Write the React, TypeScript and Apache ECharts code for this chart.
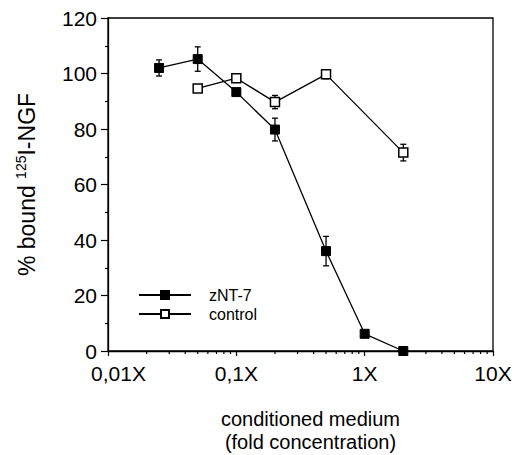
import React, { useEffect, useRef } from "react";
import * as echarts from "echarts";

const concZNT7 = [0.025, 0.05, 0.1, 0.2, 0.5, 1, 2];
const boundZNT7 = [102, 105.2, 93.3, 79.8, 36, 6.2, 0];
const errZNT7 = [2.9, 4.4, 0, 4.1, 5.3, 0, 0];

const concControl = [0.05, 0.1, 0.2, 0.5, 2];
const boundControl = [94.6, 98.3, 89.7, 99.7, 71.5];
const errControl = [0, 0, 2.4, 1.6, 3];

const xTickLabels = ["0,01X", "0,1X", "1X", "10X"];
const xMinorTicks = [
  0.02, 0.03, 0.04, 0.05, 0.06, 0.07, 0.08, 0.09,
  0.2, 0.3, 0.4, 0.5, 0.6, 0.7, 0.8, 0.9,
  2, 3, 4, 5, 6, 7, 8, 9,
];

const FONT = "'Liberation Sans', Arial, Helvetica, sans-serif";

export default function App() {
  const ref = useRef<HTMLDivElement>(null);
  useEffect(() => {
    if (!ref.current) return;
    const chart = echarts.init(ref.current, null, { renderer: "svg" });

    const errData: number[][] = [];
    concZNT7.forEach((x, i) => {
      if (errZNT7[i] > 0) errData.push([x, boundZNT7[i] - errZNT7[i], boundZNT7[i] + errZNT7[i]]);
    });
    concControl.forEach((x, i) => {
      if (errControl[i] > 0) errData.push([x, boundControl[i] - errControl[i], boundControl[i] + errControl[i]]);
    });

    chart.setOption({
      animation: false,
      backgroundColor: "#fff",
      textStyle: { fontFamily: FONT, color: "#000" },
      grid: {
        left: 108,
        right: 22,
        top: 18,
        bottom: 104,
        containLabel: false,
        outerBoundsMode: "none",
        show: true,
        borderColor: "#000",
        borderWidth: 1.3,
      },
      legend: {
        data: ["zNT-7", "control"],
        orient: "vertical",
        left: 133,
        top: 282,
        itemWidth: 52,
        itemHeight: 10,
        itemGap: 3,
        textStyle: { fontSize: 16, color: "#000", fontFamily: FONT, padding: [0, 0, 0, 13] },
      },
      xAxis: {
        type: "log",
        logBase: 10,
        min: 0.01,
        max: 10,
        name: "conditioned medium\n(fold concentration)",
        nameLocation: "middle",
        nameGap: 57,
        nameTextStyle: { fontSize: 20, lineHeight: 22.5, color: "#000", fontFamily: FONT, padding: [0, 0, 0, 20] },
        axisLine: { lineStyle: { color: "#000", width: 1.3 } },
        axisTick: { show: true, length: 5, lineStyle: { color: "#000", width: 1.2 } },
        splitLine: { show: false },
        axisLabel: {
          fontSize: 21,
          color: "#000",
          fontFamily: FONT,
          margin: 12,
          formatter: (v: number) => {
            const idx = Math.round(Math.log10(v)) + 2;
            const t = xTickLabels[idx] ?? "";
            return idx === 0 ? "{first|" + t + "}" : t;
          },
          rich: {
            first: { fontSize: 21, color: "#000", fontFamily: FONT, padding: [0, 0, 0, 21] },
          },
        },
      },
      yAxis: {
        type: "value",
        min: 0,
        max: 120,
        interval: 20,
        name: "{a|% bound }{s|125}{a|I-NGF}",
        nameLocation: "middle",
        nameRotate: 90,
        nameGap: 70,
        nameTextStyle: {
          rich: {
            a: { fontSize: 23, color: "#000", fontFamily: FONT, lineHeight: 24, verticalAlign: "bottom" },
            s: { fontSize: 14, color: "#000", fontFamily: FONT, lineHeight: 24, verticalAlign: "top" },
          },
        },
        axisLine: { show: true, lineStyle: { color: "#000", width: 1.3 } },
        axisTick: { show: true, length: 7, lineStyle: { color: "#000", width: 1.2 } },
        minorTick: { show: true, splitNumber: 2, length: 3, lineStyle: { color: "#000", width: 1.2 } },
        splitLine: { show: false },
        axisLabel: { fontSize: 21, color: "#000", fontFamily: FONT, margin: 11 },
      },
      series: [
        {
          type: "custom",
          name: "minorTicks",
          clip: false,
          silent: true,
          data: xMinorTicks.map((v) => [v, 0]),
          encode: { x: 0, y: 1 },
          renderItem: (params: any, api: any) => {
            const p = api.coord([api.value(0), 0]);
            return {
              type: "line",
              shape: { x1: p[0], y1: p[1], x2: p[0], y2: p[1] + 3 },
              style: { stroke: "#000", lineWidth: 1.2 },
            };
          },
          z: 1,
        },
        {
          type: "custom",
          name: "errors",
          clip: false,
          silent: true,
          data: errData,
          encode: { x: 0, y: [1, 2] },
          renderItem: (params: any, api: any) => {
            const lo = api.coord([api.value(0), api.value(1)]);
            const hi = api.coord([api.value(0), api.value(2)]);
            const w = 3;
            const st = { stroke: "#000", lineWidth: 1.3 };
            return {
              type: "group",
              children: [
                { type: "line", shape: { x1: lo[0], y1: lo[1], x2: hi[0], y2: hi[1] }, style: st },
                { type: "line", shape: { x1: lo[0] - w, y1: lo[1], x2: lo[0] + w, y2: lo[1] }, style: st },
                { type: "line", shape: { x1: hi[0] - w, y1: hi[1], x2: hi[0] + w, y2: hi[1] }, style: st },
              ],
            };
          },
          z: 1,
        },
        {
          type: "line",
          name: "control",
          data: concControl.map((x, i) => [x, boundControl[i]]),
          symbol: "rect",
          symbolSize: 9,
          lineStyle: { color: "#000", width: 1.3 },
          itemStyle: { color: "#fff", borderColor: "#000", borderWidth: 1.5 },
          z: 3,
        },
        {
          type: "line",
          name: "zNT-7",
          data: concZNT7.map((x, i) => [x, boundZNT7[i]]),
          symbol: "rect",
          symbolSize: 9,
          lineStyle: { color: "#000", width: 1.3 },
          itemStyle: { color: "#000", borderColor: "#000", borderWidth: 1 },
          z: 4,
        },
      ],
    });
    return () => chart.dispose();
  }, []);
  return <div ref={ref} style={{ width: 515, height: 455, position: "absolute", left: 0, top: 0 }} />;
}
